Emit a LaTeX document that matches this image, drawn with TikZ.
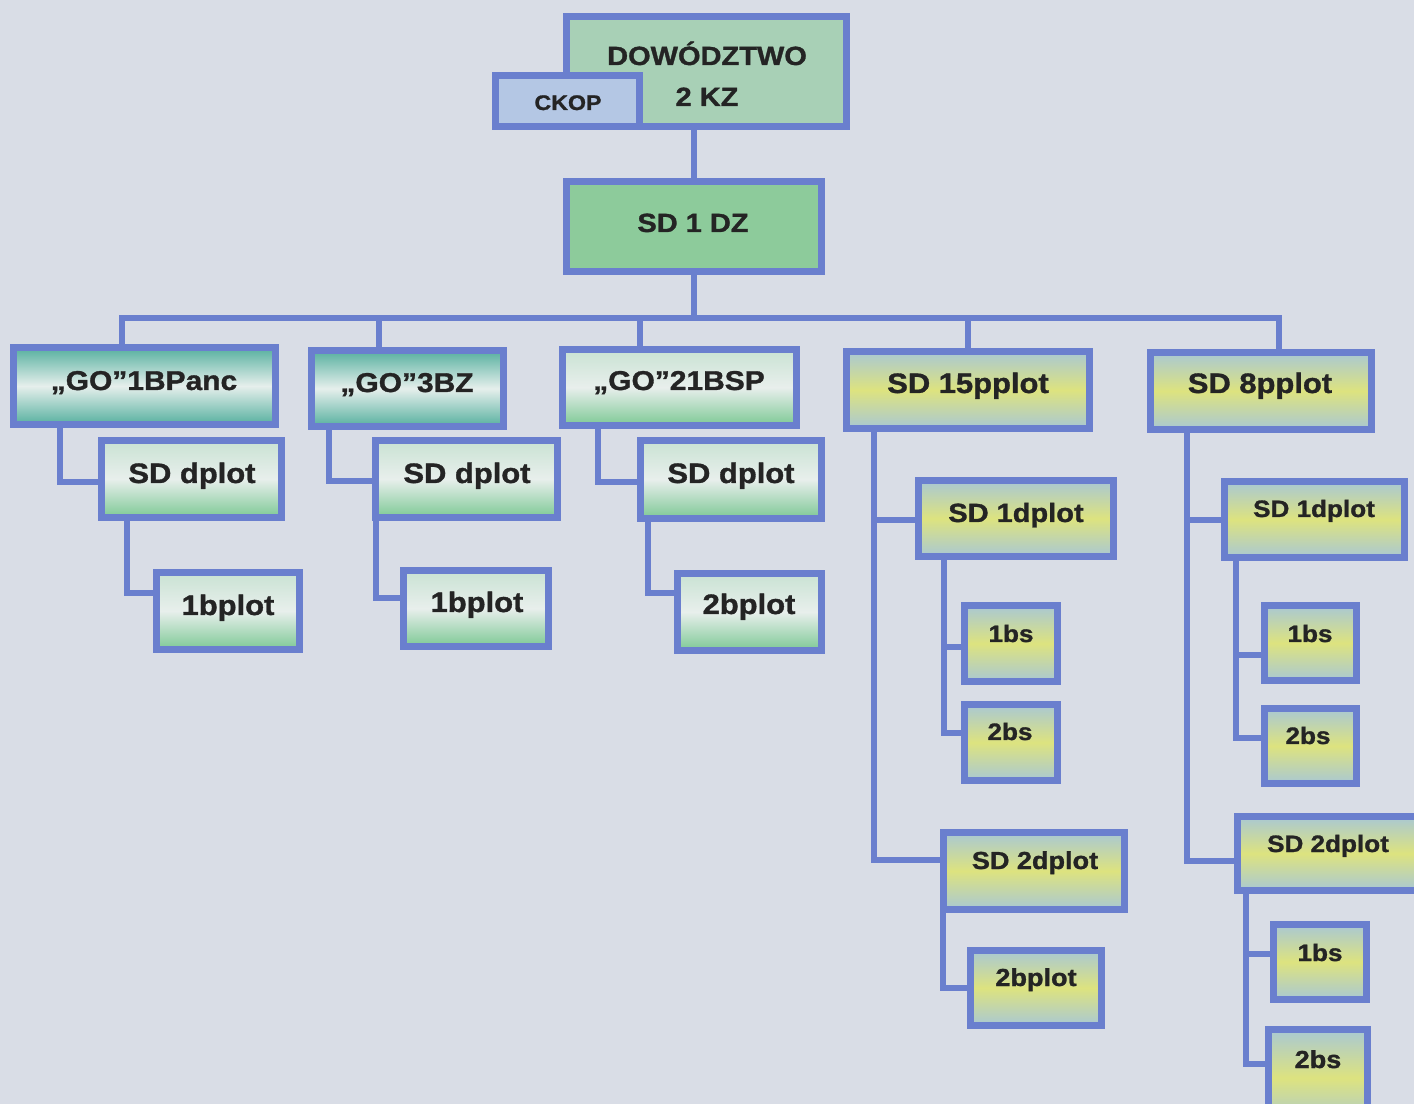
\documentclass[tikz,border=0pt]{standalone}
\usepackage{fontspec}
\setmainfont{Liberation Sans}[FakeStretch=1.1, BoldFeatures={FakeBold=1.2}]
\definecolor{bg}{HTML}{D9DDE6}
\definecolor{bd}{HTML}{6A7FCE}
\definecolor{txtc}{HTML}{242424}
\definecolor{dowc}{HTML}{A8D0B6}
\definecolor{ckopc}{HTML}{B4C7E4}
\definecolor{sddz}{HTML}{8DCB9B}
\definecolor{tealA}{HTML}{56B09F}
\definecolor{tealM}{HTML}{E6EFEC}
\definecolor{grnT}{HTML}{C9E2D3}
\definecolor{grnM}{HTML}{E8EFEC}
\definecolor{grnB}{HTML}{7DC895}
\definecolor{yelE}{HTML}{A9C8D3}
\definecolor{yelM}{HTML}{DDE37F}
\tikzset{
  box/.style={draw=bd, line width=3.8pt, rectangle, inner sep=0pt, outer sep=0pt},
  tealbox/.style={top color=tealA, bottom color=tealA, middle color=tealM},
  grnbox/.style={top color=grnT, bottom color=grnB, middle color=grnM},
  yelbox/.style={top color=yelE, bottom color=yelE, middle color=yelM},
  con/.style={draw=bd, line width=3.2pt},
  lbl/.style={anchor=base, inner sep=0pt, text=txtc},
}
% #1 style, #2 name, #3 x1, #4 y1, #5 x2, #6 y2 (outer pixel edges)
\newcommand\bx[6]{%
  \node[box,#1,minimum width={(#5-#3-7)*0.02cm},minimum height={(#6-#4-7)*0.02cm}] (#2) at ({(#3+#5)/2},{(#4+#6)/2}) {};}
% #1 name, #2 x, #3 baseline y, #4 size (pt), #5 text
\newcommand\tx[5]{%
  \node[lbl,font=\fontsize{#4pt}{#4pt}\selectfont\bfseries] (#1) at (#2,#3) {#5};}
\begin{document}
\begin{tikzpicture}[x=0.02cm,y=-0.02cm]
\fill[bg] (0,0) rectangle (1414,1104);
\useasboundingbox (0,0) rectangle (1414,1104);
\clip (0,0) rectangle (1414,1104);

\coordinate (busL) at (122,318);
\coordinate (d2) at (379,318);
\coordinate (d3) at (640,318);
\coordinate (d4) at (968,318);
\coordinate (busR) at (1279,318);

% ---- boxes ----
\bx{fill=dowc}{dow}{563}{13}{850}{130}
\bx{fill=sddz}{sddz}{563}{178}{825}{275}

\bx{tealbox}{go1}{10}{344}{279}{428}
\bx{tealbox}{go3}{308}{347}{507}{430}
\bx{grnbox}{go21}{559}{346}{800}{429}
\bx{yelbox}{sd15}{843}{348}{1093}{432}
\bx{yelbox}{sd8}{1147}{349}{1375}{433}

\bx{grnbox}{sdA}{98}{437}{285}{521}
\bx{grnbox}{bpA}{153}{569}{303}{653}
\bx{grnbox}{sdB}{372}{437}{561}{521}
\bx{grnbox}{bpB}{400}{567}{552}{650}
\bx{grnbox}{sdC}{637}{437}{825}{522}
\bx{grnbox}{bpC}{674}{570}{825}{654}

\bx{yelbox}{sdOneA}{915}{477}{1117}{560}
\bx{yelbox}{bsOneA}{961}{602}{1061}{685}
\bx{yelbox}{bsTwoA}{961}{701}{1061}{784}
\bx{yelbox}{sdTwoA}{940}{829}{1128}{913}
\bx{yelbox}{bpD}{967}{947}{1105}{1029}

\bx{yelbox}{sdOneB}{1221}{478}{1408}{561}
\bx{yelbox}{bsOneB}{1261}{602}{1360}{684}
\bx{yelbox}{bsTwoB}{1261}{705}{1360}{787}
\bx{yelbox}{sdTwoB}{1234}{813}{1440}{894}
\bx{yelbox}{bsOneC}{1270}{921}{1370}{1003}
\bx{yelbox}{bsTwoC}{1265}{1026}{1371}{1130}

% ---- connectors ----
\draw[con] (sddz.north) -- (sddz.north |- dow.south);
\draw[con] (sddz.south) -- (sddz.south |- busL);
\draw[con] (busL |- go1.north) -- (busL) -- (busR) -- (busR |- sd8.north);
\draw[con] (d2) -- (d2 |- go3.north);
\draw[con] (d3) -- (d3 |- go21.north);
\draw[con] (d4) -- (d4 |- sd15.north);

\draw[con] (60,0 |- go1.south) -- (60,482) -- (sdA.west |- 60,482);
\draw[con] (127,0 |- sdA.south) -- (127,593) -- (bpA.west |- 127,593);
\draw[con] (329,0 |- go3.south) -- (329,481) -- (sdB.west |- 329,481);
\draw[con] (376,0 |- sdB.south) -- (376,598) -- (bpB.west |- 376,598);
\draw[con] (598,0 |- go21.south) -- (598,482) -- (sdC.west |- 598,482);
\draw[con] (648,0 |- sdC.south) -- (648,593) -- (bpC.west |- 648,593);

\draw[con] (874,0 |- sd15.south) -- (874,860) -- (sdTwoA.west |- 874,860);
\draw[con] (874,520) -- (sdOneA.west |- 874,520);
\draw[con] (944,0 |- sdOneA.south) -- (944,733) -- (bsTwoA.west |- 944,733);
\draw[con] (944,647) -- (bsOneA.west |- 944,647);
\draw[con] (943,0 |- sdTwoA.south) -- (943,988) -- (bpD.west |- 943,988);

\draw[con] (1187,0 |- sd8.south) -- (1187,861) -- (sdTwoB.west |- 1187,861);
\draw[con] (1187,520) -- (sdOneB.west |- 1187,520);
\draw[con] (1236,0 |- sdOneB.south) -- (1236,738) -- (bsTwoB.west |- 1236,738);
\draw[con] (1236,655) -- (bsOneB.west |- 1236,655);
\draw[con] (1246,0 |- sdTwoB.south) -- (1246,1064) -- (bsTwoC.west |- 1246,1064);
\draw[con] (1246,954) -- (bsOneC.west |- 1246,954);

% CKOP on top of the command box
\bx{fill=ckopc}{ckop}{492}{72}{643}{130}

% ---- labels ----
\tx{tDow}{707}{65}{15}{DOWÓDZTWO}
\tx{tKz}{707}{106}{15}{2 KZ}
\tx{tCkop}{568}{110}{12}{CKOP}
\tx{tSddz}{693}{232}{15}{SD 1 DZ}
\tx{tGo1}{144}{390}{15.5}{„GO”1BPanc}
\tx{tGo3}{407}{392}{15.5}{„GO”3BZ}
\tx{tGo21}{679}{390}{15.5}{„GO”21BSP}
\tx{tSd15}{968}{393}{16}{SD 15pplot}
\tx{tSd8}{1260}{393}{16}{SD 8pplot}
\tx{tSdA}{192}{483}{16}{SD dplot}
\tx{tSdB}{467}{483}{16}{SD dplot}
\tx{tSdC}{731}{483}{16}{SD dplot}
\tx{tBpA}{228}{615}{16}{1bplot}
\tx{tBpB}{477}{612}{16}{1bplot}
\tx{tBpC}{749}{614}{16}{2bplot}
\tx{tSdOneA}{1016}{522}{15}{SD 1dplot}
\tx{tBsOneA}{1011}{642}{13.5}{1bs}
\tx{tBsTwoA}{1010}{740}{13.5}{2bs}
\tx{tSdTwoA}{1035}{869}{14}{SD 2dplot}
\tx{tBpD}{1036}{986}{14}{2bplot}
\tx{tSdOneB}{1314}{517}{13.5}{SD 1dplot}
\tx{tBsOneB}{1310}{642}{13.5}{1bs}
\tx{tBsTwoB}{1308}{744}{13.5}{2bs}
\tx{tSdTwoB}{1328}{852}{13.5}{SD 2dplot}
\tx{tBsOneC}{1320}{961}{13.5}{1bs}
\tx{tBsTwoC}{1318}{1068}{14}{2bs}
\end{tikzpicture}
\end{document}
